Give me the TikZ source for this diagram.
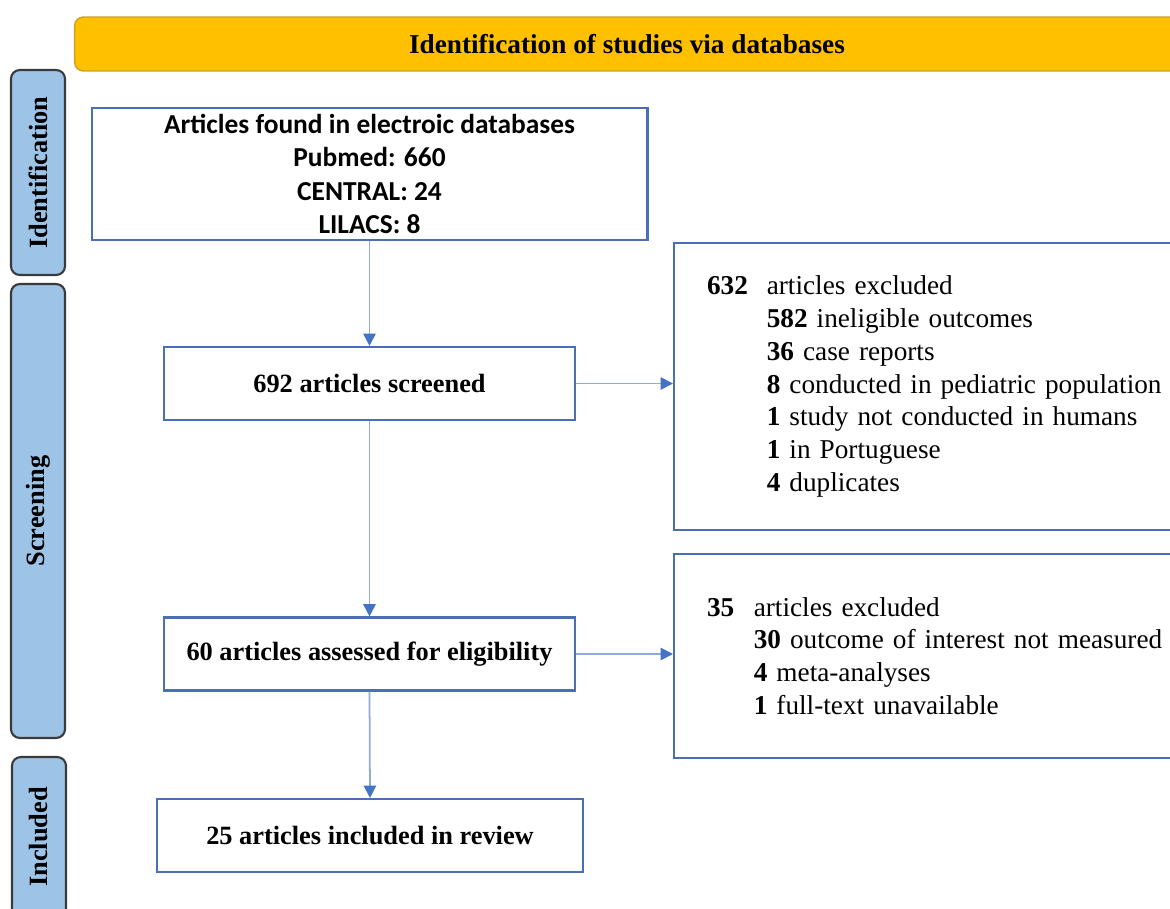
\documentclass[tikz,border=0pt]{standalone}
\usepackage{fontspec}
\setmainfont{Liberation Serif}
\newfontfamily\calibfont{Carlito}
\usepackage{tikz}
\usetikzlibrary{arrows.meta}
\definecolor{bannerfill}{HTML}{FFC000}
\definecolor{banneredge}{HTML}{C9A227}
\definecolor{stagefill}{HTML}{9DC3E6}
\definecolor{stageedge}{HTML}{3A3A3A}
\definecolor{boxedge}{HTML}{4A6FB5}
\definecolor{flowline}{HTML}{8FAADC}
\definecolor{tipblue}{HTML}{4472C4}
\newcommand{\txtsize}{\fontsize{15.5}{18.7}\selectfont}
\tikzset{
  banner/.style={draw=banneredge, fill=bannerfill, line width=0.8pt, rounded corners=5pt,
    minimum width=22.1cm, minimum height=1.08cm, inner sep=0pt, font=\txtsize\bfseries},
  stage/.style={draw=stageedge, fill=stagefill, line width=1.2pt, rounded corners=5pt,
    rotate=90, minimum height=1.08cm, inner sep=0pt, font=\fontsize{15}{18}\selectfont\bfseries},
  stepbox/.style={draw=boxedge, fill=white, line width=1.2pt, inner sep=0pt,
    minimum width=8.22cm, minimum height=1.46cm, font=\fontsize{15}{18}\selectfont\bfseries},
  exclbox/.style={draw=boxedge, fill=white, line width=1.2pt, anchor=north west,
    text width=9.22cm, inner xsep=0.66cm, inner ysep=0pt, align=left, font=\txtsize},
  flow/.style={draw=flowline, line width=1pt, -{Triangle[color=tipblue,length=7pt,width=7pt]}},
}

\begin{document}
\begin{tikzpicture}[x=0.02cm, y=-0.02cm]
  \clip (0,0) rectangle (1170,909);
  % top banner
  \node[banner] (head) at (627,44) {Identification of studies via databases};
  % stage labels on the left
  \node[stage, minimum width=4.1cm] (ident) at (38,172.5) {Identification};
  \node[stage, minimum width=9.08cm] (screen) at (38,511) {Screening};
  \node[stage, minimum width=3.2cm] (incl) at (39,837) {Included};
  % main column
  \node[stepbox, font=\calibfont\fontsize{15.6}{19}\selectfont\bfseries, align=center,
    minimum width=11.12cm, minimum height=2.64cm] (found) at (369.5,174)
    {Articles found in electroic databases\\Pubmed: 660\\CENTRAL: 24\\LILACS: 8};
  \node[stepbox] (screened) at (369.5,383.5) {692 articles screened};
  \node[stepbox] (assessed) at (369.5,654) {60 articles assessed for eligibility};
  \node[stepbox, minimum width=8.52cm] (included) at (370,835.5) {25 articles included in review};
  % exclusion boxes
  \node[exclbox, minimum height=5.74cm] (excl1) at (673,242)
    {\makebox[34pt][l]{\textbf{632}}articles excluded\\
     \hspace*{34pt}\textbf{582} ineligible outcomes\\
     \hspace*{34pt}\textbf{36} case reports\\
     \hspace*{34pt}\textbf{8} conducted in pediatric population\\
     \hspace*{34pt}\textbf{1} study not conducted in humans\\
     \hspace*{34pt}\textbf{1} in Portuguese\\
     \hspace*{34pt}\textbf{4} duplicates};
  \node[exclbox, minimum height=4.08cm] (excl2) at (673,553)
    {\makebox[26.6pt][l]{\textbf{35}}articles excluded\\
     \hspace*{26.6pt}\textbf{30} outcome of interest not measured\\
     \hspace*{26.6pt}\textbf{4} meta-analyses\\
     \hspace*{26.6pt}\textbf{1} full-text unavailable};
  % arrows
  \draw[flow] (found.south) -- (screened.north);
  \draw[flow] (screened.south) -- (assessed.north);
  \draw[flow] (assessed.south) -- (included.north);
  \draw[flow] (screened.east) -- (screened.east -| excl1.west);
  \draw[flow] (assessed.east) -- (assessed.east -| excl2.west);
\end{tikzpicture}
\end{document}
